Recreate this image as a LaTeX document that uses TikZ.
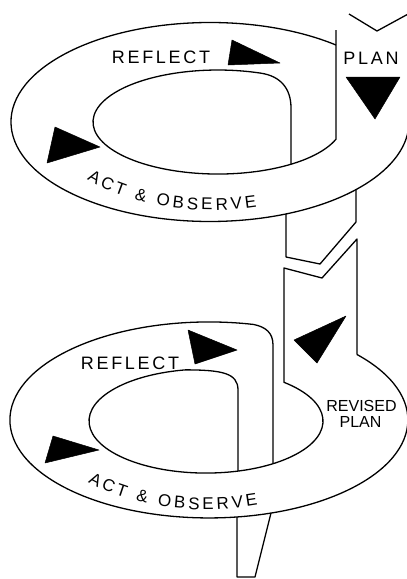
\documentclass[tikz,border=0pt]{standalone}
\usepackage{fontspec}
\setmainfont{Liberation Sans}
\usetikzlibrary{decorations.text}
\newcommand\actfont{\fontsize{17}{17}\selectfont}
\begin{document}
\begin{tikzpicture}[x=1pt,y=1pt,
  edge/.style={line width=1.3pt, line join=round},
  tri/.style={fill=black, draw=black, line width=0.5pt, line join=round},
  lbl/.style={font=\fontsize{18}{18}\selectfont\addfontfeatures{LetterSpace=15}, inner sep=0pt, anchor=base},
  rlbl/.style={font=\fontsize{16}{16}\selectfont, inner sep=0pt, anchor=base},
  curved/.style={decorate, decoration={text along path, text align={fit to path}, text={|\actfont|ACT {\&} OBSERVE}}}]
\useasboundingbox (0,0) rectangle (407,-579);
\clip (0,0) rectangle (407,-579);

% ---------- upper loop ----------
\draw[edge] (336,-45) arc[start angle=50.7, end angle=360, x radius=199, y radius=99.5];
\draw[edge] (336,-30) -- (336,-139.2)
  arc[start angle=-19.3, end angle=-290, x radius=125, y radius=52]
  .. controls (280,-76) and (291,-88) .. (291,-108) -- (291,-164.2);
\draw[edge] (349,-14) -- (377,-31) -- (410,-13);
\draw[edge] (286,-214) -- (286,-257) -- (320,-264) -- (356,-222) -- (356,-189.6);

% ---------- lower loop ----------
\draw[edge] (357,-354.5) -- (357,-239) -- (322,-278) -- (284,-268) -- (284,-382.3)
  arc[start angle=48.2, end angle=-260, x radius=117, y radius=52]
  .. controls (222,-370) and (238,-373) .. (238,-390) -- (238,-471.2);
\draw[edge] (357,-354.5) arc[start angle=41.9, end angle=-283, x radius=199, y radius=98]
  .. controls (266,-327) and (273,-333) .. (273,-345) -- (273,-463.6);
\draw[edge] (237,-517) -- (237,-577) -- (255,-577) -- (271,-513);

% ---------- arrowheads ----------
\fill[tri] (232,-40) -- (228,-65) -- (280,-63) -- cycle;
\fill[tri] (346,-77) -- (400,-77) -- (375,-119) -- cycle;
\fill[tri] (55,-127) -- (47,-163) -- (100,-147) -- cycle;
\fill[tri] (188,-330) -- (195,-364) -- (237,-350) -- cycle;
\fill[tri] (53,-436) -- (45,-463) -- (99,-450) -- cycle;
\fill[tri] (346,-316) -- (294,-340) -- (317,-363) -- cycle;

% ---------- labels ----------
\node[lbl] (reflectA) at (161,-63) {REFLECT};
\node[lbl] (planA) at (371,-64) {PLAN};
\node[lbl] (reflectB) at (130,-369) {REFLECT};
\node[rlbl] (revised) at (361.5,-411) {REVISED};
\node[rlbl] (planB) at (360.5,-427) {PLAN};
\path[curved] (86.9,-179.4) arc[start angle=-139.3, end angle=-74.2, x radius=165, y radius=88];
\path[curved] (88,-482) arc[start angle=-136.1, end angle=-72, x radius=165, y radius=90];
\end{tikzpicture}
\end{document}
